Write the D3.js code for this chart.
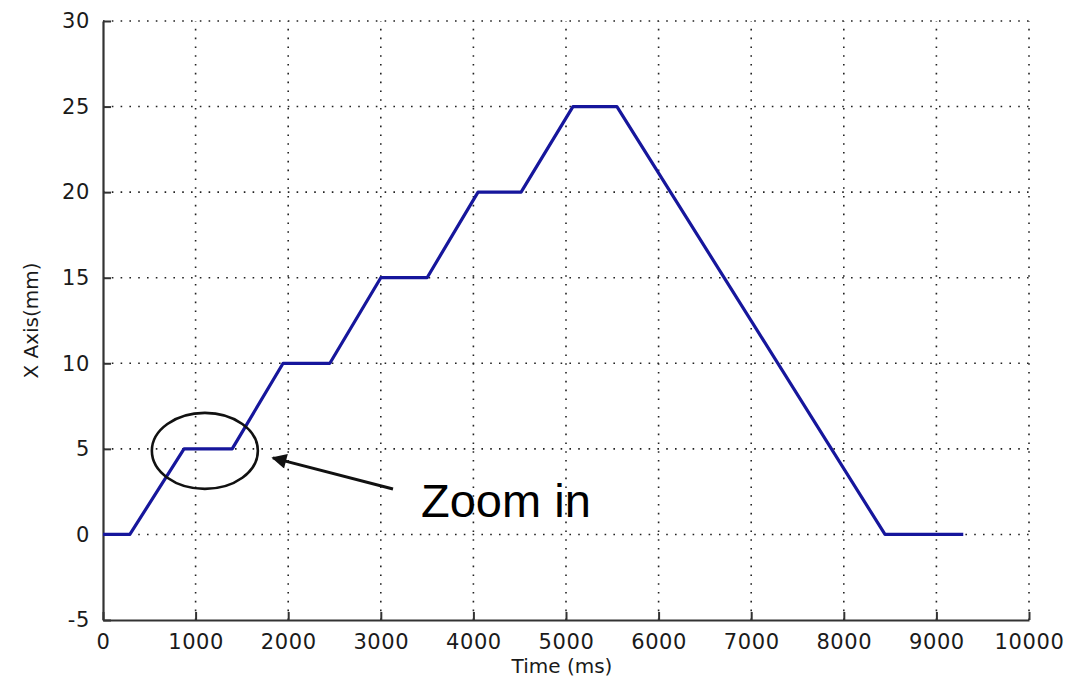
<!DOCTYPE html>
<meta charset="utf-8">
<style>
  body { margin: 0; background: #fff; }
  svg { display: block; }
</style>
<svg width="1071" height="683"></svg>
<script src="https://cdn.jsdelivr.net/npm/d3@7"></script>
<script>

// data
var timeMs   = [0, 290, 875, 1395, 1945, 2450, 3000, 3500, 4050, 4515, 5075, 5550, 8445, 9290];
var xAxisMm  = [0, 0,   5,   5,    10,   10,   15,   15,   20,   20,   25,   25,   0,    0];
var xTicks = [0, 1000, 2000, 3000, 4000, 5000, 6000, 7000, 8000, 9000, 10000];
var yTicks = [-5, 0, 5, 10, 15, 20, 25, 30];
var note = {t: 1100, v: 5, text: "Zoom in"};

var svg = d3.select("svg"),
    width = +svg.attr("width"),
    height = +svg.attr("height");

var margin = {left: 103, top: 21, right: 42, bottom: 63};

var x = d3.scaleLinear().domain([0, 10000]).range([margin.left, width - margin.right]);
var y = d3.scaleLinear().domain([-5, 30]).range([height - margin.bottom, margin.top]);

var fontTick = "'DejaVu Sans', sans-serif";
var plain = function(d) { return String(d); };

// dotted grid
var grid = svg.append("g").attr("stroke", "#222").attr("stroke-width", 1.6)
    .attr("stroke-dasharray", "1.6,7.2");
grid.selectAll(".vg").data(xTicks.slice(1)).enter().append("line")
    .attr("x1", function(d) { return x(d); }).attr("x2", function(d) { return x(d); })
    .attr("y1", y(-5)).attr("y2", y(30));
grid.selectAll(".hg").data(yTicks.slice(1)).enter().append("line")
    .attr("y1", function(d) { return y(d); }).attr("y2", function(d) { return y(d); })
    .attr("x1", x(0)).attr("x2", x(10000));

// axes, ticks inside
var xAxis = svg.append("g")
    .attr("transform", "translate(0," + y(-5) + ")")
    .call(d3.axisBottom(x).tickValues(xTicks).tickFormat(plain)
      .tickSizeInner(-8).tickSizeOuter(0).tickPadding(14));
var yAxis = svg.append("g")
    .attr("transform", "translate(" + x(0) + ",0)")
    .call(d3.axisLeft(y).tickValues(yTicks).tickFormat(plain)
      .tickSizeInner(-8).tickSizeOuter(0).tickPadding(13));

[xAxis, yAxis].forEach(function(a) {
  a.select(".domain").attr("stroke", "#333").attr("stroke-width", 2.2);
  a.selectAll(".tick line").attr("stroke", "#333").attr("stroke-width", 2);
  a.selectAll(".tick text").attr("fill", "#1a1a1a")
    .style("font-family", fontTick).style("font-size", "21px").style("letter-spacing", "0.6px");
});

// position curve
var line = d3.line()
    .x(function(d) { return x(d[0]); })
    .y(function(d) { return y(d[1]); });

svg.append("path")
    .datum(d3.zip(timeMs, xAxisMm))
    .attr("fill", "none")
    .attr("stroke", "#16169c")
    .attr("stroke-width", 3.2)
    .attr("stroke-linejoin", "round")
    .attr("d", line);

// axis labels
svg.append("text")
    .attr("x", x(5000) - 4).attr("y", 673)
    .attr("text-anchor", "middle")
    .style("font-family", fontTick).style("font-size", "20px").attr("fill", "#1a1a1a")
    .text("Time (ms)");

svg.append("text")
    .attr("transform", "translate(38," + y(12.5) + ") rotate(-90)")
    .attr("text-anchor", "middle")
    .style("font-family", fontTick).style("font-size", "20px").attr("fill", "#1a1a1a")
    .text("X Axis(mm)");

// annotation
svg.append("ellipse")
    .attr("cx", x(note.t)).attr("cy", y(note.v) + 2)
    .attr("rx", 53).attr("ry", 38)
    .attr("fill", "none").attr("stroke", "#111").attr("stroke-width", 2.6);

svg.append("defs").append("marker")
    .attr("id", "head")
    .attr("viewBox", "0 0 10 10")
    .attr("refX", 9).attr("refY", 5)
    .attr("markerWidth", 7).attr("markerHeight", 5)
    .attr("markerUnits", "strokeWidth")
    .attr("orient", "auto")
  .append("path")
    .attr("d", "M0,0L10,5L0,10z")
    .attr("fill", "#111");

svg.append("line")
    .attr("x1", 393).attr("y1", 489)
    .attr("x2", x(note.t) + 68).attr("y2", y(note.v) + 9)
    .attr("stroke", "#111").attr("stroke-width", 3)
    .attr("marker-end", "url(#head)");

svg.append("text")
    .attr("x", 421).attr("y", 517)
    .style("font-family", "'Liberation Sans', Arial, sans-serif").style("font-size", "47px")
    .attr("fill", "#000")
    .text(note.text);

</script>
